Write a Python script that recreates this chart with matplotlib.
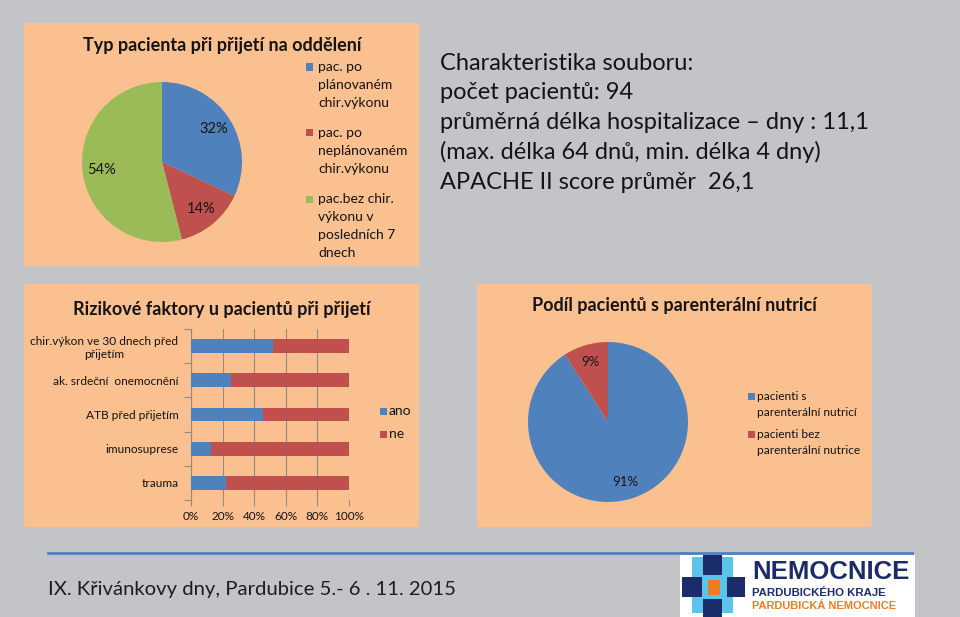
import matplotlib
matplotlib.use("Agg")
import matplotlib.pyplot as plt
from matplotlib.patches import Rectangle

W, H = 960, 617
FONT = ["Lato", "DejaVu Sans"]
plt.rcParams["font.family"] = FONT

BG = "#C2C4C8"
PEACH = "#FAC090"
BLUE = "#4F81BD"
RED = "#C0504D"
GREEN = "#9BBB59"
INK = "#141414"
GRID = "#8C8C8C"

# --- data ---
typ_labels = ["pac. po\nplánovaném\nchir.výkonu",
              "pac. po\nneplánovaném\nchir.výkonu",
              "pac.bez chir.\nvýkonu v\nposledních 7\ndnech"]
typ_values = [32, 14, 54]

rizika_labels = ["chir.výkon ve 30 dnech před\npřijetím",
                 "ak. srdeční  onemocnění",
                 "ATB před přijetím",
                 "imunosuprese",
                 "trauma"]
rizika_ano = [52.1, 25.5, 45.7, 12.8, 22.3]
rizika_ne = [47.9, 74.5, 54.3, 87.2, 77.7]
pct_ticks = [0, 20, 40, 60, 80, 100]

nutrice_labels = ["pacienti s\nparenterální nutricí",
                  "pacienti bez\nparenterální nutrice"]
nutrice_values = [91, 9]

souhrn_lines = ["Charakteristika souboru:",
                "počet pacientů: 94",
                "průměrná délka hospitalizace – dny : 11,1",
                "(max. délka 64 dnů, min. délka 4 dny)",
                "APACHE II score průměr  26,1"]
footer = "IX. Křivánkovy dny, Pardubice 5.- 6 . 11. 2015"


def fx(x):
    return x / W


def fy(y):
    return 1 - y / H


def box(x, y, w, h):
    return [x / W, 1 - (y + h) / H, w / W, h / H]


def rect(x0, y0, x1, y1, color, z=0):
    fig.add_artist(Rectangle((fx(x0), fy(y1)), (x1 - x0) / W, (y1 - y0) / H,
                             transform=fig.transFigure, facecolor=color,
                             edgecolor="none", zorder=z))


def legend(labels, colors, sq_x, text_x, y, line_h, gap, size, sq=7):
    for lab, col in zip(labels, colors):
        rect(sq_x, y - sq / 2, sq_x + sq, y + sq / 2, col, z=3)
        for i, line in enumerate(lab.split("\n")):
            fig.text(fx(text_x), fy(y + i * line_h), line, fontsize=size,
                     color=INK, ha="left", va="center")
        y += (len(lab.split("\n")) - 1) * line_h + gap


fig = plt.figure(figsize=(W / 100, H / 100), dpi=100, facecolor=BG)

# panels
rect(24, 23, 419, 266, PEACH)
rect(24, 284, 419, 527, PEACH)
rect(477, 284, 872, 527, PEACH)

# --- panel 1: pie ---
fig.text(fx(222), fy(45), "Typ pacienta při přijetí na oddělení",
         fontsize=13, fontweight="bold", color=INK, ha="center", va="center")
ax1 = fig.add_axes(box(82, 82, 160, 160))
ax1.pie(typ_values, colors=[BLUE, RED, GREEN], startangle=90, counterclock=False,
        autopct="%.0f%%", pctdistance=0.76,
        textprops={"fontsize": 10.5, "color": INK})
ax1.set_xlim(-1, 1)
ax1.set_ylim(-1, 1)
legend(typ_labels, [BLUE, RED, GREEN], 306, 318, 67, 18, 30, 10)

# --- summary text ---
for i, line in enumerate(souhrn_lines):
    fig.text(fx(440), fy(63 + i * 29.8), line, fontsize=17, color=INK,
             ha="left", va="center")

# --- panel 2: stacked bars ---
fig.text(fx(222), fy(309), "Rizikové faktory u pacientů při přijetí",
         fontsize=13, fontweight="bold", color=INK, ha="center", va="center")
ax2 = fig.add_axes(box(191, 329, 158, 171))
ax2.patch.set_alpha(0)
pos = list(range(len(rizika_labels)))
ax2.barh(pos, rizika_ano, height=0.4, color=BLUE, zorder=3)
ax2.barh(pos, rizika_ne, left=rizika_ano, height=0.4, color=RED, zorder=3)
ax2.set_xlim(0, 100)
ax2.set_ylim(len(pos) - 0.5, -0.5)
ax2.set_xticks(pct_ticks, labels=[f"{t}%" for t in pct_ticks])
ax2.grid(axis="x", color=GRID, linewidth=0.8, zorder=0)
ax2.set_yticks([p - 0.5 for p in pos] + [len(pos) - 0.5], labels=[])
ax2.set_yticks(pos, labels=rizika_labels, minor=True)
for t in ax2.get_yticklabels(minor=True):
    t.set_multialignment("center")
ax2.tick_params(axis="y", which="major", length=5, color=GRID, direction="out")
ax2.tick_params(axis="y", which="minor", length=0, pad=9, labelsize=8.6,
                labelcolor=INK)
ax2.tick_params(axis="x", length=4, color=GRID, labelsize=8.5, labelcolor=INK, pad=4)
for s in ["top", "right", "bottom"]:
    ax2.spines[s].set_visible(False)
ax2.spines["left"].set_color(GRID)
legend(["ano", "ne"], [BLUE, RED], 380, 389, 411, 16, 23, 10)

# --- panel 3: pie ---
fig.text(fx(674), fy(305), "Podíl pacientů s parenterální nutricí",
         fontsize=13, fontweight="bold", color=INK, ha="center", va="center")
ax3 = fig.add_axes(box(528, 342, 160, 160))
ax3.pie(nutrice_values, colors=[BLUE, RED], startangle=90, counterclock=False,
        autopct="%.0f%%", pctdistance=0.78,
        textprops={"fontsize": 9.5, "color": INK})
ax3.set_xlim(-1, 1)
ax3.set_ylim(-1, 1)
legend(nutrice_labels, [BLUE, RED], 748, 757, 396, 16, 22, 8.6)

# --- footer ---
fig.add_artist(plt.Line2D([fx(48), fx(912)], [fy(553), fy(553)],
                          transform=fig.transFigure, color=BLUE, linewidth=2))
fig.text(fx(48), fy(589), footer, fontsize=14.6, color="#1E1E1E",
         ha="left", va="center")

# logo
NAVY = "#1B2C6B"
SKY = "#5CC3EB"
ORANGE = "#EE7D22"
rect(680, 555, 915, 617, "white", z=1)
rect(692, 557, 733, 613, SKY, z=2)
rect(703, 555, 722, 575, NAVY, z=3)
rect(682, 577, 702, 597, NAVY, z=3)
rect(727, 577, 745, 597, NAVY, z=3)
rect(703, 599, 722, 617, NAVY, z=3)
rect(708, 580, 720, 595, ORANGE, z=3)
fig.text(fx(752), fy(572), "NEMOCNICE", fontsize=18.5, fontweight="bold",
         color=NAVY, ha="left", va="center", family="Liberation Sans", zorder=4)
fig.text(fx(752), fy(593), "PARDUBICKÉHO KRAJE", fontsize=8.2, fontweight="bold",
         color=NAVY, ha="left", va="center", family="Liberation Sans", zorder=4)
fig.text(fx(752), fy(606), "PARDUBICKÁ NEMOCNICE", fontsize=7.9, fontweight="bold",
         color=ORANGE, ha="left", va="center", family="Liberation Sans", zorder=4)

fig.savefig("out.png", dpi=100, facecolor=BG)
